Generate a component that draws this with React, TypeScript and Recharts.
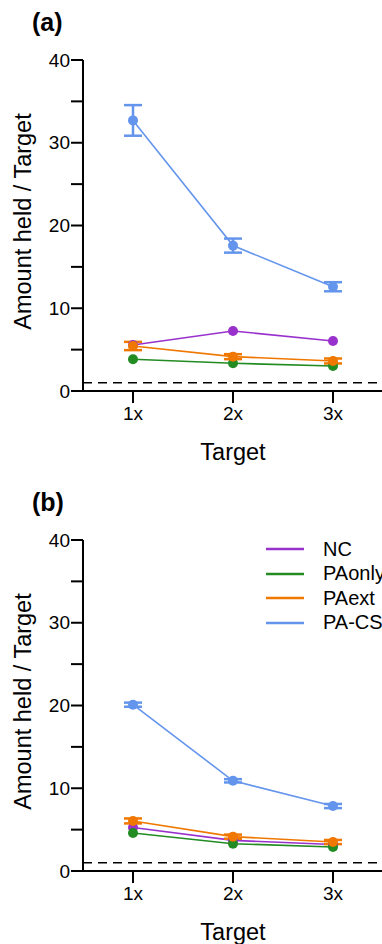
import React from 'react';
import { LineChart, Line, XAxis, YAxis, ErrorBar, ReferenceLine, Legend, Label } from 'recharts';

const FONT = '"Liberation Sans", Arial, sans-serif';

const categories = ['1x', '2x', '3x'];
const xPositions = [1, 2, 3];
const yTicks = [0, 5, 10, 15, 20, 25, 30, 35, 40];

const seriesNames = ['NC', 'PAonly', 'PAext', 'PA-CS'];
const seriesKeys = ['nc', 'paOnly', 'paExt', 'paCs'];
const seriesColors = ['#9932cc', '#228b22', '#f07800', '#6495ed'];
// error bars that show beyond the dots
const withErrors = [false, false, true, true];

// panel (a)
const ncA = [5.55, 7.25, 6.05];
const paOnlyA = [3.83, 3.35, 3.02];
const paExtA = [5.44, 4.15, 3.63];
const paCsA = [32.7, 17.57, 12.6];
const paExtErrA = [0.5, 0.3, 0.3];
const paCsErrA = [1.85, 0.85, 0.55];

// panel (b)
const ncB = [5.25, 3.7, 3.2];
const paOnlyB = [4.6, 3.3, 2.9];
const paExtB = [6.05, 4.15, 3.5];
const paCsB = [20.1, 10.9, 7.85];
const paExtErrB = [0.3, 0.25, 0.25];
const paCsErrB = [0.25, 0.2, 0.25];

const noErr = [0, 0, 0];

const buildRows = (values: number[][], errors: number[][]) =>
  categories.map((c, i) => {
    const row: any = { x: xPositions[i], cat: c };
    seriesKeys.forEach((k, s) => {
      row[k] = values[s][i];
      row[k + 'Err'] = errors[s][i];
    });
    return row;
  });

const rowsA = buildRows([ncA, paOnlyA, paExtA, paCsA], [noErr, noErr, paExtErrA, paCsErrA]);
const rowsB = buildRows([ncB, paOnlyB, paExtB, paCsB], [noErr, noErr, paExtErrB, paCsErrB]);

const YTitle = (props: any) => {
  const vb = props.viewBox;
  const cy = vb.y + vb.height / 2 - 4;
  return (
    <text x={31} y={cy} transform={`rotate(-90, 31, ${cy})`} textAnchor="middle"
      fontSize={23.5} fill="#000" fontFamily={FONT}>
      Amount held / Target
    </text>
  );
};

const XTitle = (props: any) => {
  const vb = props.viewBox;
  return (
    <text x={vb.x + vb.width / 2} y={vb.y + 69} textAnchor="middle"
      fontSize={23.5} fill="#000" fontFamily={FONT}>
      Target
    </text>
  );
};

const LegendBox = () => (
  <div style={{ fontFamily: FONT, fontSize: 20, color: '#000' }}>
    {seriesNames.map((n, i) => (
      <div key={n} style={{ display: 'flex', alignItems: 'center', height: 24.5, whiteSpace: 'nowrap' }}>
        <svg width={38} height={4} style={{ marginRight: 19 }}>
          <line x1={0} y1={2} x2={38} y2={2} stroke={seriesColors[i]} strokeWidth={2.5} />
        </svg>
        <span>{n}</span>
      </div>
    ))}
  </div>
);

const Panel = ({ rows, tag, legend }: { rows: any[]; tag: string; legend?: boolean }) => (
  <LineChart width={384} height={480} data={rows} margin={{ top: 60, right: 1, bottom: 19, left: 0 }}>
    <XAxis
      type="number"
      dataKey="x"
      domain={[0.5, 3.5]}
      ticks={xPositions}
      tickFormatter={(v: number) => categories[v - 1]}
      interval={0}
      height={70}
      tickSize={12}
      tickMargin={4}
      tick={{ fill: '#000', fontSize: 19, fontFamily: FONT }}
      tickLine={{ stroke: '#000', strokeWidth: 2 }}
      axisLine={{ stroke: '#000', strokeWidth: 2 }}
    >
      <Label content={XTitle} />
    </XAxis>
    <YAxis
      type="number"
      domain={[0, 40]}
      ticks={yTicks}
      tickFormatter={(v: number) => (v % 10 === 0 ? String(v) : '')}
      interval={0}
      width={83}
      tickSize={12}
      tickMargin={1}
      tick={{ fill: '#000', fontSize: 19, fontFamily: FONT }}
      tickLine={{ stroke: '#000', strokeWidth: 2 }}
      axisLine={{ stroke: '#000', strokeWidth: 2 }}
    >
      <Label content={YTitle} />
    </YAxis>
    <ReferenceLine y={1} stroke="#000" strokeWidth={1.5} strokeDasharray="9 6" />
    {seriesKeys.map((k, i) => (
      <Line
        key={k}
        type="linear"
        dataKey={k}
        name={seriesNames[i]}
        stroke={seriesColors[i]}
        strokeWidth={1.6}
        dot={{ r: 5, fill: seriesColors[i], stroke: seriesColors[i], strokeWidth: 0 }}
        activeDot={false}
        isAnimationActive={false}
      >
        {withErrors[i] && (
          <ErrorBar dataKey={k + 'Err'} direction="y" width={9} strokeWidth={2.5} stroke={seriesColors[i]} />
        )}
      </Line>
    ))}
    {legend && (
      <Legend
        layout="vertical"
        align="center"
        verticalAlign="middle"
        content={LegendBox}
        wrapperStyle={{ top: 57, left: 266, width: 140 }}
      />
    )}
    <text x={32} y={31} fontSize={25} fontWeight="bold" fontFamily={FONT} fill="#000">{tag}</text>
  </LineChart>
);

export default function App() {
  return (
    <div style={{ width: 382, height: 944, overflow: 'hidden', background: '#fff' }}>
      <style>{`body{margin:0}`}</style>
      <Panel rows={rowsA} tag="(a)" />
      <Panel rows={rowsB} tag="(b)" legend />
    </div>
  );
}
